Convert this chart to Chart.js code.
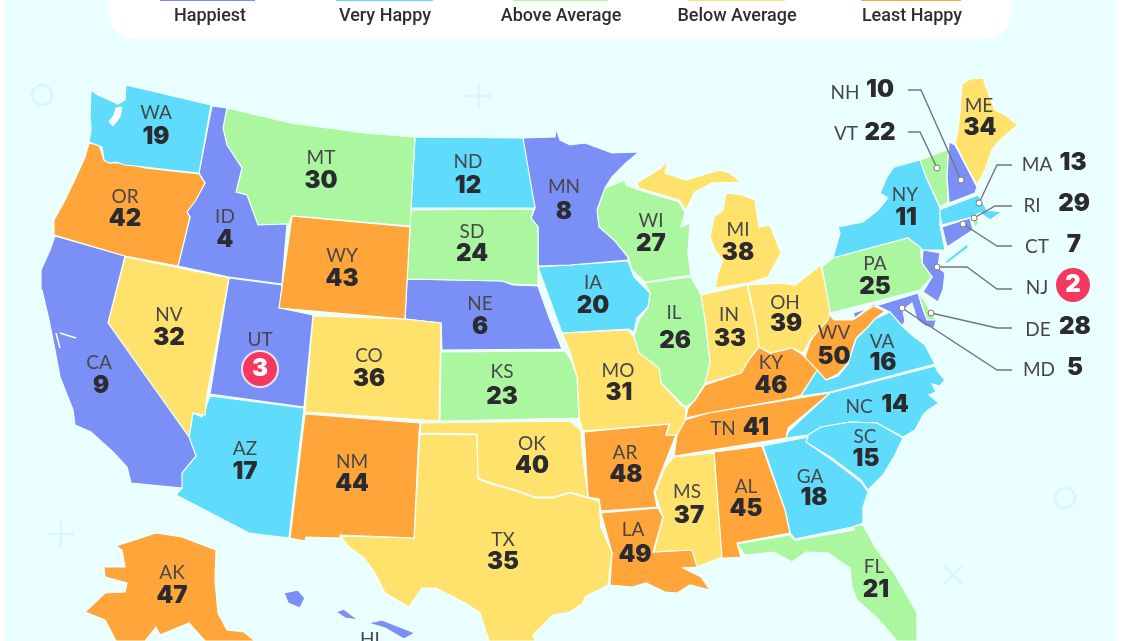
<!DOCTYPE html>
<html><head><meta charset="utf-8">
<style>html,body{margin:0;padding:0;background:#fff}canvas{display:block;filter:blur(0.5px)}</style>
<script src="https://cdn.jsdelivr.net/npm/chart.js@4"></script>
</head><body><canvas id="c" width="1140" height="641"></canvas>
<script>
// ---- categories and values ----
const legendLabels = ["Happiest","Very Happy","Above Average","Below Average","Least Happy"];
const legendCenters = [210,385,561,737,912];
const legendChips = [[160,255],[336,433],[513,608],[688,785],[861,961]];
const groupColors = ["#7a90f7","#5fdcfb","#abf7a0","#ffe26b","#ffa53a"];
const stateCodes = ["WA","OR","CA","NV","ID","MT","WY","UT","AZ","CO","NM","ND","SD","NE","KS","OK","TX","MN","IA","MO","AR","LA","WI","IL","MI","IN","OH","KY","TN","MS","AL","GA","FL","SC","NC","VA","WV","PA","NY","ME","AK","HI"];
const stateRanks = [19,42,9,32,4,30,43,3,17,36,44,12,24,6,23,40,35,8,20,31,48,49,27,26,38,33,39,46,41,37,45,18,21,15,14,16,50,25,11,34,47,1];
const codeX = [156,125,99,169,225,321,342,260,245,369,352,468,472,480,502,532,503,564,593,618,625,633,651,674,738,729,785,771,723,687,746,810,874,865,859,882,834,875,905,979,172,370];
const codeY = [113,197,363,315,217,158,256,340,449,356,462,162,232,304,372,444,540,187,283,371,453,530,221,313,230,315,303,363,429,492,487,477,567,437,407,342,333,264,195,106,573,640];
const rankX = [156,125,101,169,225,321,342,260,245,369,352,468,472,480,502,532,503,564,593,619,626,635,651,675,738,730,786,771,756,689,746,814,876,866,895,883,834,875,906,980,172,370];
const rankY = [137,219,386,338,240,181,279,369,472,379,484,186,254,327,397,466,562,212,306,393,475,555,244,341,253,339,324,386,428,516,509,498,590,459,405,363,357,287,218,128,596,668];
// small north-east states labelled beside the map
const sideCodes = ["NH","VT","MA","RI","CT","NJ","DE","MD"];
const sideRanks = [10,22,13,29,7,2,28,5];
const sideCodeX = [845,846,1037,1032,1037,1037,1038,1039];
const sideCodeY = [93,134,165,206,247,288,330,370];
const sideRankX = [880,880,1073,1074,1074,1073,1075,1075];
const sideRankY = [90,133,163,204,245,285,327,368];
const leaderNH = [[908,90],[921,90],[961,180]];
const leaderVT = [[908,132],[920,132],[937,168]];
const leaderMA = [[1012,165],[997,165],[979,203]];
const leaderRI = [[1012,206],[995,206],[974,218]];
const leaderCT = [[1012,246],[997,246],[963,224]];
const leaderNJ = [[1012,289],[997,289],[967,267],[937,267]];
const leaderDE = [[1012,328],[997,328],[931,313]];
const leaderMD = [[1012,370],[997,370],[902,308]];
const leaders = [leaderNH,leaderVT,leaderMA,leaderRI,leaderCT,leaderNJ,leaderDE,leaderMD];
// ---- state outlines ----
const WA=[[91,90],[98,95],[107,99],[118,104],[125,100],[126,85],[211,105],[199,173],[170,170],[145,167],[125,165],[116,162],[109,163],[104,160],[102,147],[89,142],[91,130],[90,115]];
const OR=[[89,143],[99,145],[104,160],[109,163],[125,163],[145,168],[199,174],[205,183],[196,200],[187,212],[190,217],[178,266],[125,256],[54,235],[54,220],[65,200],[76,177],[85,157]];
const CA=[[55,236],[125,256],[108,323],[189,437],[196,456],[182,473],[182,488],[131,483],[127,467],[113,452],[91,432],[75,425],[73,410],[60,377],[55,350],[49,320],[42,290],[41,270],[50,250]];
const NV=[[125,257],[229,278],[207,395],[205,415],[193,413],[189,437],[108,323]];
const ID=[[212,106],[227,108],[223,128],[227,145],[242,168],[236,192],[247,195],[258,225],[287,224],[282,284],[229,277],[178,266],[190,217],[187,212],[205,183],[199,173]];
const MT=[[227,108],[291,123],[364,133],[415,137],[410,226],[292,216],[289,224],[258,225],[247,195],[236,192],[242,168],[227,145],[223,128]];
const WY=[[292,216],[410,227],[405,319],[279,308]];
const UT=[[229,278],[282,285],[280,308],[313,315],[304,407],[210,394]];
const AZ=[[210,396],[304,408],[289,538],[249,533],[176,495],[182,488],[180,475],[196,456],[189,437],[193,413],[202,417]];
const CO=[[313,316],[405,319],[441,323],[439,421],[305,412]];
const NM=[[305,414],[420,423],[419,433],[414,538],[340,535],[340,538],[306,537],[305,541],[290,538]];
const ND=[[415,137],[523,138],[535,208],[411,208]];
const SD=[[411,210],[534,209],[531,218],[538,227],[538,285],[513,284],[502,281],[407,279]];
const NE=[[407,279],[502,281],[513,285],[538,286],[549,317],[562,349],[442,350],[441,323],[405,319]];
const KS=[[441,352],[565,351],[571,360],[577,377],[579,418],[440,421]];
const OK=[[421,423],[570,421],[581,430],[582,450],[588,497],[570,492],[553,497],[535,497],[516,490],[491,483],[478,478],[477,434],[420,433]];
const TX=[[420,434],[477,435],[478,479],[491,484],[516,491],[535,498],[553,498],[570,493],[588,498],[599,501],[601,527],[612,553],[608,585],[585,597],[583,603],[570,612],[553,615],[533,635],[535,641],[489,641],[480,613],[465,603],[436,588],[422,588],[409,607],[385,593],[375,573],[364,558],[349,547],[340,536],[414,538]];
const MN=[[523,138],[555,137],[556,128],[560,140],[570,145],[585,143],[612,153],[639,152],[626,163],[612,177],[605,188],[597,210],[599,227],[614,240],[628,257],[628,260],[570,265],[538,266],[538,227],[531,218],[535,208],[524,157]];
const IA=[[538,267],[570,265],[628,261],[634,277],[650,293],[648,307],[637,318],[634,332],[628,329],[562,333],[550,300]];
const MO=[[570,352],[562,333],[628,330],[634,337],[639,353],[659,368],[661,383],[681,405],[686,408],[685,420],[677,435],[666,435],[670,424],[583,431],[579,418],[577,377]];
const AR=[[584,432],[669,424],[666,435],[676,435],[665,463],[654,492],[657,507],[601,511],[599,499],[588,497]];
const LA=[[601,513],[658,508],[663,517],[653,552],[692,550],[697,567],[683,568],[701,577],[710,590],[690,585],[677,593],[665,592],[646,583],[632,587],[610,585],[612,553]];
const WI=[[605,188],[625,180],[626,185],[639,190],[679,202],[685,213],[681,227],[690,223],[688,253],[691,275],[645,282],[632,270],[628,257],[614,240],[599,227],[597,210]];
const IL=[[645,283],[691,277],[701,295],[705,320],[710,363],[705,383],[695,400],[686,407],[681,403],[661,383],[659,368],[639,353],[634,337],[639,320],[648,307],[650,293]];
const MIU=[[637,183],[661,168],[668,160],[665,173],[686,180],[719,170],[730,173],[741,182],[712,183],[695,192],[686,210],[679,200],[639,188]];
const MI=[[726,193],[742,195],[755,200],[759,227],[770,225],[781,253],[768,277],[748,283],[715,288],[718,273],[723,260],[715,250],[710,237],[714,217],[723,210]];
const IN=[[701,295],[747,285],[755,320],[759,347],[750,358],[741,373],[705,383],[710,363],[705,320]];
const OH=[[748,285],[781,283],[795,285],[821,265],[830,310],[828,320],[810,340],[803,353],[792,348],[770,353],[759,347],[755,320]];
const KY=[[759,347],[770,353],[792,348],[803,355],[817,370],[801,395],[792,398],[708,413],[686,418],[688,408],[695,400],[705,385],[741,373],[750,358]];
const TN=[[830,393],[810,410],[788,428],[786,438],[674,456],[677,435],[685,420],[708,413]];
const MS=[[674,457],[714,453],[722,557],[697,567],[692,550],[654,552],[663,517],[655,493],[665,467]];
const AL=[[714,452],[762,446],[785,510],[790,533],[737,543],[741,557],[726,558],[721,558]];
const GA=[[763,446],[808,437],[806,442],[832,460],[861,482],[868,492],[863,507],[863,523],[852,527],[795,539],[790,533],[785,510]];
const FL=[[737,544],[790,535],[795,540],[854,530],[854,525],[863,525],[875,547],[894,573],[908,597],[917,613],[917,641],[897,641],[879,620],[857,600],[852,587],[850,568],[828,553],[806,552],[792,562],[774,552],[745,555]];
const SC=[[808,435],[821,427],[850,422],[877,423],[903,438],[894,457],[883,475],[868,490],[861,480],[832,458],[806,442]];
const NC=[[830,393],[935,366],[938,372],[945,380],[940,386],[932,384],[936,392],[929,395],[939,403],[928,410],[923,415],[915,430],[903,437],[877,423],[850,422],[821,427],[808,435],[786,438],[788,432],[806,415]];
const VA=[[875,319],[890,312],[903,327],[912,335],[925,345],[935,364],[830,392],[801,396],[817,370],[826,380],[838,376],[848,364],[856,339],[868,327]];
const WV=[[828,313],[834,320],[853,320],[873,306],[885,311],[875,319],[868,327],[856,338],[848,363],[838,374],[826,380],[814,375],[805,357],[810,342],[820,326]];
const PA=[[822,267],[833,258],[908,238],[920,247],[922,263],[932,277],[920,290],[830,313]];
const NY=[[894,167],[920,160],[926,177],[940,208],[940,225],[945,250],[923,250],[908,238],[833,258],[840,233],[838,227],[863,222],[878,210],[888,198],[880,193],[887,177]];
const LI=[[943,263],[968,243],[968,248],[948,263]];
const ME=[[962,84],[970,79],[983,78],[990,98],[995,110],[1005,115],[1018,125],[1008,133],[998,142],[992,150],[985,170],[977,185],[966,165],[955,143],[958,130],[960,110]];
const AK=[[116,546],[156,533],[182,537],[216,550],[215,580],[218,613],[227,630],[244,632],[255,641],[205,641],[189,623],[160,635],[156,627],[145,641],[116,641],[105,620],[85,612],[105,593],[125,592],[127,583],[105,577],[104,567],[125,567],[122,550]];
const HI1=[[284,593],[298,590],[305,598],[300,608],[288,603]];
const HI2=[[336,612],[344,609],[358,620],[345,618]];
const HI3=[[368,623],[382,620],[415,633],[404,639],[385,628]];
const NH=[[949,142],[955,145],[977,187],[975,193],[949,203],[947,177]];
const VT=[[920,160],[949,149],[947,177],[948,202],[940,207],[926,177]];
const MA=[[939,210],[978,195],[983,203],[987,210],[1002,212],[990,220],[980,213],[972,217],[942,225]];
const RI=[[972,217],[977,216],[979,223],[975,228]];
const CT=[[942,227],[970,218],[973,230],[947,247]];
const NJ=[[923,250],[940,253],[938,267],[945,273],[943,290],[938,302],[923,292],[932,277],[922,263]];
const DE=[[919,293],[926,303],[936,320],[927,320],[921,303]];
const MD=[[853,313],[918,293],[925,315],[937,318],[934,328],[925,326],[917,320],[912,303],[903,310],[905,322],[900,328],[890,312],[873,304],[855,318]];
const pugetWater=[[116,108],[122,107],[120,117],[113,126],[109,122],[114,115]];
const deltaWater1=[[56,333],[60,348]];
const deltaWater2=[[60,333],[76,338]];
// polygons with the happiness rank they take their colour from
const stateShapes=[[WA,19],[OR,42],[CA,9],[NV,32],[ID,4],[MT,30],[WY,43],[UT,3],[AZ,17],[CO,36],[NM,44],[ND,12],[SD,24],[NE,6],[KS,23],[OK,40],[TX,35],[MN,8],[IA,20],[MO,31],[AR,48],[LA,49],[WI,27],[IL,26],[MIU,38],[MI,38],[IN,33],[OH,39],[KY,46],[TN,41],[MS,37],[AL,45],[GA,18],[FL,21],[SC,15],[NC,14],[VA,16],[WV,50],[PA,25],[NY,11],[LI,11],[ME,34],[AK,47],[HI1,1],[HI2,1],[HI3,1],[NH,10],[VT,22],[MA,13],[RI,29],[CT,7],[NJ,2],[DE,28],[MD,5]];
const decorCircles=[[42,95],[1065,498]];
const decorPlus=[[479,96],[61,534]];
const decorCross=[[953,575]];

const BG="#eaffff", BADGE="#f5385f", INK="#2b2b2f", ABBR="#47474b";
const pts=a=>a.map(p=>({x:p[0],y:p[1]}));
const closed=a=>pts(a.concat([a[0]]));
const groupOf=r=>Math.ceil(r/10)-1;
const datasets=[];
// top-most first
datasets.push({data:pts(leaders.map(l=>l[l.length-1])),showLine:false,pointRadius:3,pointBackgroundColor:"#fff",pointBorderColor:"#7b7b7b",pointBorderWidth:1,order:1});
datasets.push({data:pts([[260,369]]),showLine:false,pointRadius:18,pointBackgroundColor:BADGE,pointBorderColor:"#e6e6ee",pointBorderWidth:2,order:2});
datasets.push({data:pts([[1073,285]]),showLine:false,pointRadius:17,pointBackgroundColor:BADGE,pointBorderColor:BADGE,pointBorderWidth:0,order:2});
leaders.forEach(l=>datasets.push({data:pts(l),showLine:true,fill:false,pointRadius:0,borderColor:"#757578",borderWidth:1.4,tension:0,order:3}));
datasets.push({data:closed(pugetWater),showLine:true,fill:'shape',backgroundColor:"#fff",borderColor:"#fff",borderWidth:1,pointRadius:0,order:4});
[deltaWater1,deltaWater2].forEach(l=>datasets.push({data:pts(l),showLine:true,fill:false,borderColor:"#fff",borderWidth:1.5,pointRadius:0,order:4}));
stateShapes.forEach(s=>{const c=groupColors[groupOf(s[1])];
  datasets.push({data:closed(s[0]),showLine:true,fill:'shape',backgroundColor:c,borderColor:"#f4fffb",borderWidth:1.2,pointRadius:0,tension:0,order:5});});
const deco="#d8f6fc";
datasets.push({data:pts(decorCircles),showLine:false,pointStyle:'circle',pointRadius:10,pointBackgroundColor:"rgba(0,0,0,0)",pointBorderColor:deco,pointBorderWidth:2.5,order:9});
datasets.push({data:pts(decorPlus),showLine:false,pointStyle:'cross',pointRadius:13,pointBorderColor:deco,pointBorderWidth:2.5,order:9});
datasets.push({data:pts(decorCross),showLine:false,pointStyle:'crossRot',pointRadius:13,pointBorderColor:deco,pointBorderWidth:2.5,order:9});

const backdrop={id:'backdrop',beforeDraw(ch){
  const c=ch.ctx,X=ch.scales.x,Y=ch.scales.y;
  const px=v=>X.getPixelForValue(v),py=v=>Y.getPixelForValue(v);
  c.save();
  c.fillStyle="#fff";c.fillRect(0,0,ch.width,ch.height);
  c.fillStyle=BG;c.fillRect(px(5),py(0),px(1116)-px(5),py(641)-py(0));
  c.fillStyle="#fff";c.beginPath();c.roundRect(px(108),py(-40),px(1012)-px(108),py(39)-py(-40),28);c.fill();
  legendChips.forEach((k,i)=>{c.fillStyle=groupColors[i];c.fillRect(px(k[0]),0,px(k[1])-px(k[0]),1);});
  c.restore();
}};
const texts={id:'texts',afterDraw(ch){
  const c=ch.ctx,X=ch.scales.x,Y=ch.scales.y;
  const t=(s,x,y,font,col)=>{c.font=font;c.fillStyle=col;c.fillText(String(s),X.getPixelForValue(x),Y.getPixelForValue(y));};
  const F1="400 19px Lato, 'Open Sans', sans-serif", F2="900 24px Inter, Lato, sans-serif";
  c.save();c.textAlign="center";c.textBaseline="middle";
  legendLabels.forEach((s,i)=>t(s,legendCenters[i],16,"500 18px Roboto, 'Liberation Sans', sans-serif","#2e2e32"));
  stateCodes.forEach((s,i)=>{
    t(s,codeX[i],codeY[i],F1,ABBR);
    if(s==="UT") t(stateRanks[i],rankX[i],rankY[i],F2,"#fff");
    else t(stateRanks[i],rankX[i],rankY[i],F2,INK);
  });
  sideCodes.forEach((s,i)=>{
    t(s,sideCodeX[i],sideCodeY[i],F1,ABBR);
    t(sideRanks[i],sideRankX[i],sideRankY[i],F2,s==="NJ"?"#fff":INK);
  });
  c.restore();
}};
new Chart(document.getElementById('c'),{
  type:'scatter',
  data:{datasets},
  options:{responsive:false,animation:false,events:[],
    layout:{padding:0,autoPadding:false},
    scales:{x:{type:'linear',min:0,max:1140,display:false},y:{type:'linear',min:0,max:641,reverse:true,display:false}},
    plugins:{legend:{display:false},tooltip:{enabled:false},title:{display:false},filler:{propagate:false}}},
  plugins:[backdrop,texts]
});
</script></body></html>
